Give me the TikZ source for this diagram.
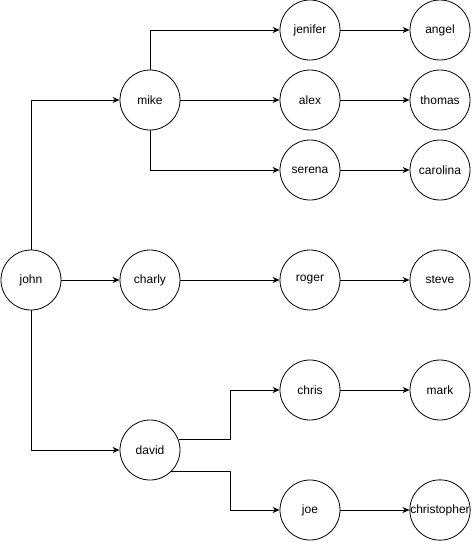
\documentclass[tikz,border=0pt]{standalone}
\usepackage{fontspec}
\setmainfont{Liberation Sans}
\usetikzlibrary{arrows.meta}
\begin{document}
\begin{tikzpicture}[x=1pt,y=-1pt,
  person/.style={circle,draw,line width=0.8pt,minimum size=60pt,inner sep=0pt,font=\fontsize{12}{14}\selectfont},
  arr/.style={draw,line width=0.9pt,-{Stealth[length=7pt,width=6pt]}}]
\useasboundingbox (0,0) rectangle (472,542);
\node[person] (john) at (31,280) {john};
\node[person] (mike) at (150,100) {mike};
\node[person] (charly) at (150,280) {charly};
\node[person] (david) at (150,450) {david};
\node[person] (jenifer) at (310,30) {jenifer};
\node[person] (alex) at (310,100) {alex};
\node[person] (serena) at (310,170) {serena};
\node[person] (roger) at (310,280) {roger};
\node[person] (chris) at (310,390) {chris};
\node[person] (joe) at (310,510) {joe};
\node[person] (angel) at (440,30) {angel};
\node[person] (thomas) at (440,100) {thomas};
\node[person] (carolina) at (440,170) {carolina};
\node[person] (steve) at (440,280) {steve};
\node[person] (mark) at (440,390) {mark};
\node[person] (christopher) at (440,510) {christopher};
\coordinate (b1) at (230,390);
\coordinate (b2) at (230,510);
\draw[arr] (john.north) |- (mike.west);
\draw[arr] (john.east) -- (charly.west);
\draw[arr] (john.south) |- (david.west);
\draw[arr] (mike.north) |- (jenifer.west);
\draw[arr] (mike.east) -- (alex.west);
\draw[arr] (mike.south) |- (serena.west);
\draw[arr] (charly.east) -- (roger.west);
\draw[arr] (david.20) -| (b1) -- (chris.west);
\draw[arr] (david.-45) -| (b2) -- (joe.west);
\draw[arr] (jenifer.east) -- (angel.west);
\draw[arr] (alex.east) -- (thomas.west);
\draw[arr] (serena.east) -- (carolina.west);
\draw[arr] (roger.east) -- (steve.west);
\draw[arr] (chris.east) -- (mark.west);
\draw[arr] (joe.east) -- (christopher.west);
\end{tikzpicture}
\end{document}
